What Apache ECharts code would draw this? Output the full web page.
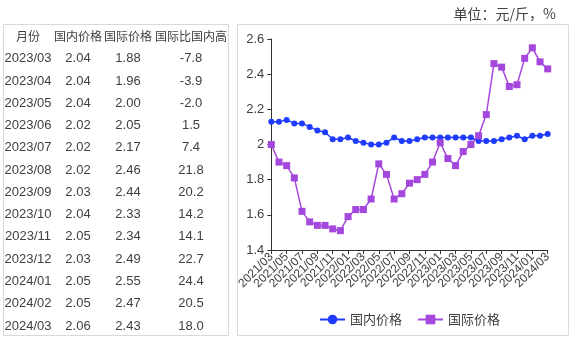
<!DOCTYPE html>
<html>
<head>
<meta charset="utf-8">
<script src="https://cdn.jsdelivr.net/npm/echarts@6/dist/echarts.min.js"></script>
<style>
  html, body { margin: 0; padding: 0; background: #fff; }
  #chart { width: 572px; height: 339px; }
</style>
</head>
<body>
<div id="chart"></div>
<script>
// Monthly series, 2021/03 – 2024/03
const months = [
  '2021/03','2021/04','2021/05','2021/06','2021/07','2021/08','2021/09','2021/10','2021/11','2021/12',
  '2022/01','2022/02','2022/03','2022/04','2022/05','2022/06','2022/07','2022/08','2022/09','2022/10','2022/11','2022/12',
  '2023/01','2023/02','2023/03','2023/04','2023/05','2023/06','2023/07','2023/08','2023/09','2023/10','2023/11','2023/12',
  '2024/01','2024/02','2024/03'
];
const domesticPrice = [
  2.13, 2.13, 2.14, 2.12, 2.12, 2.10, 2.08, 2.07, 2.03, 2.03,
  2.04, 2.02, 2.01, 2.00, 2.00, 2.01, 2.04, 2.02, 2.02, 2.03, 2.04, 2.04,
  2.04, 2.04, 2.04, 2.04, 2.04, 2.02, 2.02, 2.02, 2.03, 2.04, 2.05, 2.03,
  2.05, 2.05, 2.06
];
const intlPrice = [
  2.00, 1.90, 1.88, 1.81, 1.62, 1.56, 1.54, 1.54, 1.52, 1.51,
  1.59, 1.63, 1.63, 1.69, 1.89, 1.83, 1.69, 1.72, 1.78, 1.80, 1.83, 1.90,
  2.01, 1.92, 1.88, 1.96, 2.00, 2.05, 2.17, 2.46, 2.44, 2.33, 2.34, 2.49,
  2.55, 2.47, 2.43
];

// Table on the left
const tableHeader = ['月份', '国内价格', '国际价格', '国际比国内高'];
const tableMonths = ['2023/03','2023/04','2023/05','2023/06','2023/07','2023/08','2023/09','2023/10','2023/11','2023/12','2024/01','2024/02','2024/03'];
const tableDomestic = ['2.04','2.04','2.04','2.02','2.02','2.02','2.03','2.04','2.05','2.03','2.05','2.05','2.06'];
const tableIntl = ['1.88','1.96','2.00','2.05','2.17','2.46','2.44','2.33','2.34','2.49','2.55','2.47','2.43'];
const tableDiff = ['-7.8','-3.9','-2.0','1.5','7.4','21.8','20.2','14.2','14.1','22.7','24.4','20.5','18.0'];

const yTicks = { min: 1.4, max: 2.6, interval: 0.2 };

const BLUE = '#1f3bff';
const PURPLE = '#a447dd';
const TEXT = '#404040';

const colX = [28, 78, 128, 191];
const headerY = 36;
const rowY0 = 58.7;
const rowStep = 22.27;

const graphics = [];
// frames
graphics.push({ type: 'rect', shape: { x: 3.5, y: 24.5, width: 225, height: 311 }, style: { fill: 'none', stroke: '#d9d9d9', lineWidth: 1 }, silent: true });
graphics.push({ type: 'rect', shape: { x: 237.5, y: 24.5, width: 331, height: 311 }, style: { fill: 'none', stroke: '#d9d9d9', lineWidth: 1 }, silent: true });
// unit note
graphics.push({ type: 'text', x: 556, y: 14, style: { text: '单位：元/斤，%', font: '14px "Noto Sans CJK SC", sans-serif', fill: TEXT, align: 'right', verticalAlign: 'middle' } });

tableHeader.forEach((h, c) => {
  graphics.push({ type: 'text', x: colX[c], y: headerY, style: { text: h, font: '12px "Noto Sans CJK SC", sans-serif', fill: TEXT, align: 'center', verticalAlign: 'middle' } });
});
const cols = [tableMonths, tableDomestic, tableIntl, tableDiff];
tableMonths.forEach((_, r) => {
  cols.forEach((col, c) => {
    graphics.push({ type: 'text', x: colX[c], y: rowY0 + r * rowStep, style: { text: col[r], font: '13px "Liberation Sans", sans-serif', fill: TEXT, align: 'center', verticalAlign: 'middle' } });
  });
});

const chart = echarts.init(document.getElementById('chart'), null, { renderer: 'canvas' });
chart.setOption({
  animation: false,
  backgroundColor: '#fff',
  graphic: graphics,
  grid: { left: 271.3, right: 572 - 547.7, top: 39, bottom: 339 - 250, containLabel: false },
  legend: {
    left: 314, top: 308,
    itemWidth: 25, itemHeight: 12, itemGap: 15,
    textStyle: { fontSize: 13, color: TEXT, fontFamily: '"Noto Sans CJK SC", sans-serif' },
    data: ['国内价格', '国际价格']
  },
  xAxis: {
    type: 'category',
    data: months,
    boundaryGap: false,
    axisLine: { lineStyle: { color: '#333', width: 1 } },
    axisTick: { show: true, interval: 1, length: 4, lineStyle: { color: '#333' } },
    axisLabel: {
      interval: 0, rotate: 45, margin: 5, fontSize: 12, color: TEXT, fontFamily: '"Liberation Sans", sans-serif',
      showMinLabel: true, showMaxLabel: true, hideOverlap: false,
      // label every second month
      formatter: (v, i) => (i % 2 === 0 ? v : '')
    },
    splitLine: { show: false }
  },
  yAxis: {
    type: 'value',
    min: yTicks.min, max: yTicks.max, interval: yTicks.interval,
    axisLine: { show: true, lineStyle: { color: '#333', width: 1 } },
    axisTick: { show: true, length: 4, lineStyle: { color: '#333' } },
    axisLabel: { margin: 7, fontSize: 13, color: TEXT, fontFamily: '"Liberation Sans", sans-serif',
      formatter: v => String(+v.toFixed(1)) },
    splitLine: { show: false }
  },
  series: [
    {
      name: '国内价格', type: 'line', data: domesticPrice,
      symbol: 'circle', symbolSize: 6, showAllSymbol: true,
      itemStyle: { color: BLUE }, lineStyle: { color: BLUE, width: 1.5 }
    },
    {
      name: '国际价格', type: 'line', data: intlPrice,
      symbol: 'rect', symbolSize: 7, showAllSymbol: true,
      itemStyle: { color: PURPLE }, lineStyle: { color: PURPLE, width: 1.5 }
    }
  ]
});
</script>
</body>
</html>
